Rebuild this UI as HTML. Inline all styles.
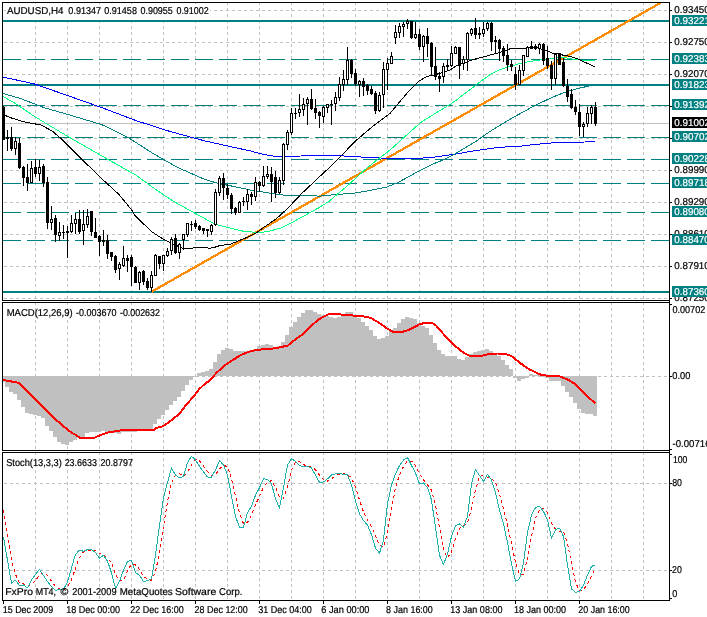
<!DOCTYPE html>
<html><head><meta charset="utf-8"><title>AUDUSD,H4</title>
<style>html,body{margin:0;padding:0;background:#fff;overflow:hidden}svg{display:block}text{filter:grayscale(1);text-rendering:geometricPrecision;stroke-width:0.22px;paint-order:stroke}</style>
</head><body>
<svg width="707" height="617" viewBox="0 0 707 617" font-family="'Liberation Sans', sans-serif" font-size="10px">
<rect x="0" y="0" width="707" height="617" fill="#fff"/>
<g shape-rendering="crispEdges" stroke="#c0c0c0" stroke-width="1" fill="none">
<line x1="35.5" y1="3" x2="35.5" y2="300" stroke-dasharray="3 3" stroke-dashoffset="1"/>
<line x1="35.5" y1="303" x2="35.5" y2="450" stroke-dasharray="3 3" stroke-dashoffset="1"/>
<line x1="35.5" y1="453" x2="35.5" y2="600" stroke-dasharray="3 3" stroke-dashoffset="1"/>
<line x1="67.5" y1="3" x2="67.5" y2="300" stroke-dasharray="3 3" stroke-dashoffset="1"/>
<line x1="67.5" y1="303" x2="67.5" y2="450" stroke-dasharray="3 3" stroke-dashoffset="1"/>
<line x1="67.5" y1="453" x2="67.5" y2="600" stroke-dasharray="3 3" stroke-dashoffset="1"/>
<line x1="99.5" y1="3" x2="99.5" y2="300" stroke-dasharray="3 3" stroke-dashoffset="1"/>
<line x1="99.5" y1="303" x2="99.5" y2="450" stroke-dasharray="3 3" stroke-dashoffset="1"/>
<line x1="99.5" y1="453" x2="99.5" y2="600" stroke-dasharray="3 3" stroke-dashoffset="1"/>
<line x1="131.5" y1="3" x2="131.5" y2="300" stroke-dasharray="3 3" stroke-dashoffset="1"/>
<line x1="131.5" y1="303" x2="131.5" y2="450" stroke-dasharray="3 3" stroke-dashoffset="1"/>
<line x1="131.5" y1="453" x2="131.5" y2="600" stroke-dasharray="3 3" stroke-dashoffset="1"/>
<line x1="163.5" y1="3" x2="163.5" y2="300" stroke-dasharray="3 3" stroke-dashoffset="1"/>
<line x1="163.5" y1="303" x2="163.5" y2="450" stroke-dasharray="3 3" stroke-dashoffset="1"/>
<line x1="163.5" y1="453" x2="163.5" y2="600" stroke-dasharray="3 3" stroke-dashoffset="1"/>
<line x1="195.5" y1="3" x2="195.5" y2="300" stroke-dasharray="3 3" stroke-dashoffset="1"/>
<line x1="195.5" y1="303" x2="195.5" y2="450" stroke-dasharray="3 3" stroke-dashoffset="1"/>
<line x1="195.5" y1="453" x2="195.5" y2="600" stroke-dasharray="3 3" stroke-dashoffset="1"/>
<line x1="227.5" y1="3" x2="227.5" y2="300" stroke-dasharray="3 3" stroke-dashoffset="1"/>
<line x1="227.5" y1="303" x2="227.5" y2="450" stroke-dasharray="3 3" stroke-dashoffset="1"/>
<line x1="227.5" y1="453" x2="227.5" y2="600" stroke-dasharray="3 3" stroke-dashoffset="1"/>
<line x1="259.5" y1="3" x2="259.5" y2="300" stroke-dasharray="3 3" stroke-dashoffset="1"/>
<line x1="259.5" y1="303" x2="259.5" y2="450" stroke-dasharray="3 3" stroke-dashoffset="1"/>
<line x1="259.5" y1="453" x2="259.5" y2="600" stroke-dasharray="3 3" stroke-dashoffset="1"/>
<line x1="291.5" y1="3" x2="291.5" y2="300" stroke-dasharray="3 3" stroke-dashoffset="1"/>
<line x1="291.5" y1="303" x2="291.5" y2="450" stroke-dasharray="3 3" stroke-dashoffset="1"/>
<line x1="291.5" y1="453" x2="291.5" y2="600" stroke-dasharray="3 3" stroke-dashoffset="1"/>
<line x1="323.5" y1="3" x2="323.5" y2="300" stroke-dasharray="3 3" stroke-dashoffset="1"/>
<line x1="323.5" y1="303" x2="323.5" y2="450" stroke-dasharray="3 3" stroke-dashoffset="1"/>
<line x1="323.5" y1="453" x2="323.5" y2="600" stroke-dasharray="3 3" stroke-dashoffset="1"/>
<line x1="355.5" y1="3" x2="355.5" y2="300" stroke-dasharray="3 3" stroke-dashoffset="1"/>
<line x1="355.5" y1="303" x2="355.5" y2="450" stroke-dasharray="3 3" stroke-dashoffset="1"/>
<line x1="355.5" y1="453" x2="355.5" y2="600" stroke-dasharray="3 3" stroke-dashoffset="1"/>
<line x1="387.5" y1="3" x2="387.5" y2="300" stroke-dasharray="3 3" stroke-dashoffset="1"/>
<line x1="387.5" y1="303" x2="387.5" y2="450" stroke-dasharray="3 3" stroke-dashoffset="1"/>
<line x1="387.5" y1="453" x2="387.5" y2="600" stroke-dasharray="3 3" stroke-dashoffset="1"/>
<line x1="419.5" y1="3" x2="419.5" y2="300" stroke-dasharray="3 3" stroke-dashoffset="1"/>
<line x1="419.5" y1="303" x2="419.5" y2="450" stroke-dasharray="3 3" stroke-dashoffset="1"/>
<line x1="419.5" y1="453" x2="419.5" y2="600" stroke-dasharray="3 3" stroke-dashoffset="1"/>
<line x1="451.5" y1="3" x2="451.5" y2="300" stroke-dasharray="3 3" stroke-dashoffset="1"/>
<line x1="451.5" y1="303" x2="451.5" y2="450" stroke-dasharray="3 3" stroke-dashoffset="1"/>
<line x1="451.5" y1="453" x2="451.5" y2="600" stroke-dasharray="3 3" stroke-dashoffset="1"/>
<line x1="483.5" y1="3" x2="483.5" y2="300" stroke-dasharray="3 3" stroke-dashoffset="1"/>
<line x1="483.5" y1="303" x2="483.5" y2="450" stroke-dasharray="3 3" stroke-dashoffset="1"/>
<line x1="483.5" y1="453" x2="483.5" y2="600" stroke-dasharray="3 3" stroke-dashoffset="1"/>
<line x1="515.5" y1="3" x2="515.5" y2="300" stroke-dasharray="3 3" stroke-dashoffset="1"/>
<line x1="515.5" y1="303" x2="515.5" y2="450" stroke-dasharray="3 3" stroke-dashoffset="1"/>
<line x1="515.5" y1="453" x2="515.5" y2="600" stroke-dasharray="3 3" stroke-dashoffset="1"/>
<line x1="547.5" y1="3" x2="547.5" y2="300" stroke-dasharray="3 3" stroke-dashoffset="1"/>
<line x1="547.5" y1="303" x2="547.5" y2="450" stroke-dasharray="3 3" stroke-dashoffset="1"/>
<line x1="547.5" y1="453" x2="547.5" y2="600" stroke-dasharray="3 3" stroke-dashoffset="1"/>
<line x1="579.5" y1="3" x2="579.5" y2="300" stroke-dasharray="3 3" stroke-dashoffset="1"/>
<line x1="579.5" y1="303" x2="579.5" y2="450" stroke-dasharray="3 3" stroke-dashoffset="1"/>
<line x1="579.5" y1="453" x2="579.5" y2="600" stroke-dasharray="3 3" stroke-dashoffset="1"/>
<line x1="611.5" y1="3" x2="611.5" y2="300" stroke-dasharray="3 3" stroke-dashoffset="1"/>
<line x1="611.5" y1="303" x2="611.5" y2="450" stroke-dasharray="3 3" stroke-dashoffset="1"/>
<line x1="611.5" y1="453" x2="611.5" y2="600" stroke-dasharray="3 3" stroke-dashoffset="1"/>
<line x1="643.5" y1="3" x2="643.5" y2="300" stroke-dasharray="3 3" stroke-dashoffset="1"/>
<line x1="643.5" y1="303" x2="643.5" y2="450" stroke-dasharray="3 3" stroke-dashoffset="1"/>
<line x1="643.5" y1="453" x2="643.5" y2="600" stroke-dasharray="3 3" stroke-dashoffset="1"/>
<line x1="3" y1="10.5" x2="669" y2="10.5" stroke-dasharray="3 3" stroke-dashoffset="5"/>
<line x1="3" y1="42.5" x2="669" y2="42.5" stroke-dasharray="3 3" stroke-dashoffset="5"/>
<line x1="3" y1="74.5" x2="669" y2="74.5" stroke-dasharray="3 3" stroke-dashoffset="5"/>
<line x1="3" y1="106.5" x2="669" y2="106.5" stroke-dasharray="3 3" stroke-dashoffset="5"/>
<line x1="3" y1="138.5" x2="669" y2="138.5" stroke-dasharray="3 3" stroke-dashoffset="5"/>
<line x1="3" y1="170.5" x2="669" y2="170.5" stroke-dasharray="3 3" stroke-dashoffset="5"/>
<line x1="3" y1="202.5" x2="669" y2="202.5" stroke-dasharray="3 3" stroke-dashoffset="5"/>
<line x1="3" y1="234.5" x2="669" y2="234.5" stroke-dasharray="3 3" stroke-dashoffset="5"/>
<line x1="3" y1="266.5" x2="669" y2="266.5" stroke-dasharray="3 3" stroke-dashoffset="5"/>
<line x1="3" y1="298.5" x2="669" y2="298.5" stroke-dasharray="3 3" stroke-dashoffset="5"/>
<line x1="3" y1="483.5" x2="669" y2="483.5" stroke-dasharray="3 3" stroke-dashoffset="5"/>
<line x1="3" y1="570.5" x2="669" y2="570.5" stroke-dasharray="3 3" stroke-dashoffset="5"/>
</g>
<g id="main">
<rect x="3" y="123" width="666" height="1" fill="#c0c0c0" shape-rendering="crispEdges"/>
<g shape-rendering="crispEdges" fill="#008080">
<rect x="3" y="20" width="666" height="2"/>
<rect x="3" y="84" width="666" height="2"/>
<rect x="3" y="291" width="666" height="2"/>
</g>
<g shape-rendering="crispEdges" stroke="#008080" stroke-width="1">
<line x1="3" y1="59.5" x2="669" y2="59.5" stroke-dasharray="18 6"/>
<line x1="3" y1="105.5" x2="669" y2="105.5" stroke-dasharray="18 6"/>
<line x1="3" y1="137.5" x2="669" y2="137.5" stroke-dasharray="18 6"/>
<line x1="3" y1="159.5" x2="669" y2="159.5" stroke-dasharray="18 6"/>
<line x1="3" y1="183.5" x2="669" y2="183.5" stroke-dasharray="18 6"/>
<line x1="3" y1="212.5" x2="669" y2="212.5" stroke-dasharray="18 6"/>
<line x1="3" y1="240.5" x2="669" y2="240.5" stroke-dasharray="18 6"/>
</g>
<line x1="151.8" y1="291.6" x2="660.3" y2="3" stroke="#ff8c00" stroke-width="2.3" shape-rendering="crispEdges"/>
<g fill="none" stroke-width="1" stroke-linejoin="round" shape-rendering="crispEdges">
<polyline stroke="#0000ff" points="2.7,77 34,83.8 68,95.7 102,107.7 136,120.6 170,131.5 204,140.7 230,146.5 240,148.7 250,150.8 260,153.6 270.4,155.8 282.5,156.8 300.7,156 321,155.3 340,155.8 363,157.1 390,158.5 410,159 434,157.2 455,154.2 470,151.5 498,147.4 520,146.2 534,144.6 552,142.9 585,142 595,141.3"/>
<polyline stroke="#008080" points="2.7,93.4 20.4,98.5 44.3,107.7 68,114.5 102,124.7 129.4,138.3 153.2,153.6 177,167.2 204,179.1 217,183.1 230,185.7 250.4,190 281,194.9 290,195.5 311.9,195.5 319.2,196.2 336.6,194.5 355.6,193 371.6,190.1 386.6,187.1 397.9,182.6 420.5,170.2 431.8,164.5 443.1,160 454.5,154.3 465.8,147.5 477.1,140.7 480,138.4 490.5,131.1 501,124.7 511.6,118.4 522.1,112.5 532.6,106.8 543.2,101.6 553.7,96.7 564.2,92.5 574.7,89.4 585.3,86.8 594.7,84.9"/>
<polyline stroke="#00ff7f" points="2.7,96.3 17,104.5 34,116.2 51,126.4 68,136.6 102,156 136,175.2 153,187.5 166.2,196.6 177,203.4 182.4,206.3 198.6,215.2 214.8,224.2 231,228.2 242.4,231 250,231.8 259.4,232.7 270,231 281.5,227.8 290,223.6 304.6,215.6 319.2,207.6 329.4,201 339.6,192.3 348.3,185 357,177 365.8,169 377.5,159.5 390,150 397.9,143 420.5,122.6 438.6,111.3 451,103.8 456.4,100 470,89.7 475,85.8 480,81.8 490.5,74.4 501,69.2 511.6,65.9 522.1,62.9 532.6,61 543.2,59.6 553.7,58.2 564.2,57.6 574.7,59.4 585.3,60.6 594.7,60.8"/>
<polyline stroke="#000" points="2.7,114.3 10,117.5 17,119.8 25.5,122.2 41,125 52.3,131.1 62.2,139.6 80.6,158 100,177.1 119,194.5 132.3,210.7 134.6,215 142.9,223.3 152.5,232.2 160.8,237.7 169.1,241.9 172.5,243.9 182.9,248.3 192.5,248.3 194.5,247.4 205,247.4 209,248.3 214,247.5 220,245.5 230,244.3 247,237.4 256,233.2 264,227.2 276.4,218.8 288.3,207.7 301.9,193.3 320,176.3 335.4,161.9 354.9,141.5 371.9,127 390,113.5 399.6,101.9 409.8,90 418.3,81.5 426.8,76.4 435.3,74.7 450,70 457,65.4 474,59.4 496,53.5 500,52.4 510,48.8 525,48.6 530,47.5 538,47.6 541,49 546.5,50.4 551.5,52.9 559.4,53.9 563.4,55.3 570,56.3 576.8,58.5 594.8,66.8"/>
</g>
<g shape-rendering="crispEdges">
<rect x="3" y="106" width="1" height="34" fill="#000"/>
<rect x="2" y="107" width="3" height="33" fill="#000"/>
<rect x="7" y="130" width="1" height="21" fill="#000"/>
<rect x="6" y="137" width="3" height="2" fill="#000"/>
<rect x="11" y="127" width="1" height="24" fill="#000"/>
<rect x="10" y="137" width="3" height="12" fill="#000"/>
<rect x="15" y="137" width="1" height="18" fill="#000"/>
<rect x="14" y="141" width="3" height="8" fill="#000"/>
<rect x="15" y="142" width="1" height="6" fill="#fff"/>
<rect x="19" y="138" width="1" height="31" fill="#000"/>
<rect x="18" y="143" width="3" height="25" fill="#000"/>
<rect x="23" y="166" width="1" height="20" fill="#000"/>
<rect x="22" y="167" width="3" height="11" fill="#000"/>
<rect x="27" y="164" width="1" height="27" fill="#000"/>
<rect x="26" y="177" width="3" height="6" fill="#000"/>
<rect x="31" y="161" width="1" height="22" fill="#000"/>
<rect x="30" y="168" width="3" height="15" fill="#000"/>
<rect x="31" y="169" width="1" height="13" fill="#fff"/>
<rect x="35" y="159" width="1" height="18" fill="#000"/>
<rect x="34" y="167" width="3" height="7" fill="#000"/>
<rect x="39" y="160" width="1" height="21" fill="#000"/>
<rect x="38" y="167" width="3" height="7" fill="#000"/>
<rect x="39" y="168" width="1" height="5" fill="#fff"/>
<rect x="43" y="164" width="1" height="23" fill="#000"/>
<rect x="42" y="166" width="3" height="17" fill="#000"/>
<rect x="47" y="177" width="1" height="52" fill="#000"/>
<rect x="46" y="182" width="3" height="41" fill="#000"/>
<rect x="51" y="206" width="1" height="24" fill="#000"/>
<rect x="50" y="219" width="3" height="4" fill="#000"/>
<rect x="51" y="220" width="1" height="2" fill="#fff"/>
<rect x="55" y="215" width="1" height="27" fill="#000"/>
<rect x="54" y="218" width="3" height="17" fill="#000"/>
<rect x="59" y="222" width="1" height="19" fill="#000"/>
<rect x="58" y="232" width="3" height="4" fill="#000"/>
<rect x="59" y="233" width="1" height="2" fill="#fff"/>
<rect x="63" y="225" width="1" height="14" fill="#000"/>
<rect x="62" y="232" width="3" height="1" fill="#000"/>
<rect x="67" y="226" width="1" height="32" fill="#000"/>
<rect x="66" y="231" width="3" height="2" fill="#000"/>
<rect x="71" y="215" width="1" height="18" fill="#000"/>
<rect x="70" y="223" width="3" height="9" fill="#000"/>
<rect x="71" y="224" width="1" height="7" fill="#fff"/>
<rect x="75" y="213" width="1" height="21" fill="#000"/>
<rect x="74" y="219" width="3" height="5" fill="#000"/>
<rect x="75" y="220" width="1" height="3" fill="#fff"/>
<rect x="79" y="210" width="1" height="24" fill="#000"/>
<rect x="78" y="219" width="3" height="13" fill="#000"/>
<rect x="83" y="210" width="1" height="35" fill="#000"/>
<rect x="82" y="224" width="3" height="7" fill="#000"/>
<rect x="83" y="225" width="1" height="5" fill="#fff"/>
<rect x="87" y="209" width="1" height="19" fill="#000"/>
<rect x="86" y="216" width="3" height="9" fill="#000"/>
<rect x="87" y="217" width="1" height="7" fill="#fff"/>
<rect x="91" y="211" width="1" height="25" fill="#000"/>
<rect x="90" y="211" width="3" height="21" fill="#000"/>
<rect x="95" y="218" width="1" height="20" fill="#000"/>
<rect x="94" y="232" width="3" height="6" fill="#000"/>
<rect x="99" y="235" width="1" height="21" fill="#000"/>
<rect x="98" y="236" width="3" height="6" fill="#000"/>
<rect x="103" y="230" width="1" height="16" fill="#000"/>
<rect x="102" y="240" width="3" height="2" fill="#000"/>
<rect x="107" y="235" width="1" height="24" fill="#000"/>
<rect x="106" y="240" width="3" height="14" fill="#000"/>
<rect x="111" y="252" width="1" height="9" fill="#000"/>
<rect x="110" y="252" width="3" height="5" fill="#000"/>
<rect x="115" y="255" width="1" height="18" fill="#000"/>
<rect x="114" y="256" width="3" height="14" fill="#000"/>
<rect x="119" y="262" width="1" height="18" fill="#000"/>
<rect x="118" y="264" width="3" height="5" fill="#000"/>
<rect x="119" y="265" width="1" height="3" fill="#fff"/>
<rect x="123" y="246" width="1" height="21" fill="#000"/>
<rect x="122" y="258" width="3" height="8" fill="#000"/>
<rect x="123" y="259" width="1" height="6" fill="#fff"/>
<rect x="127" y="255" width="1" height="17" fill="#000"/>
<rect x="126" y="258" width="3" height="3" fill="#000"/>
<rect x="131" y="255" width="1" height="31" fill="#000"/>
<rect x="130" y="257" width="3" height="10" fill="#000"/>
<rect x="135" y="266" width="1" height="17" fill="#000"/>
<rect x="134" y="267" width="3" height="16" fill="#000"/>
<rect x="139" y="271" width="1" height="19" fill="#000"/>
<rect x="138" y="272" width="3" height="11" fill="#000"/>
<rect x="139" y="273" width="1" height="9" fill="#fff"/>
<rect x="143" y="270" width="1" height="15" fill="#000"/>
<rect x="142" y="271" width="3" height="11" fill="#000"/>
<rect x="147" y="278" width="1" height="12" fill="#000"/>
<rect x="146" y="281" width="3" height="7" fill="#000"/>
<rect x="151" y="271" width="1" height="21" fill="#000"/>
<rect x="150" y="275" width="3" height="13" fill="#000"/>
<rect x="151" y="276" width="1" height="11" fill="#fff"/>
<rect x="155" y="254" width="1" height="22" fill="#000"/>
<rect x="154" y="255" width="3" height="21" fill="#000"/>
<rect x="155" y="256" width="1" height="19" fill="#fff"/>
<rect x="159" y="256" width="1" height="13" fill="#000"/>
<rect x="158" y="256" width="3" height="8" fill="#000"/>
<rect x="163" y="255" width="1" height="16" fill="#000"/>
<rect x="162" y="255" width="3" height="9" fill="#000"/>
<rect x="163" y="256" width="1" height="7" fill="#fff"/>
<rect x="167" y="248" width="1" height="9" fill="#000"/>
<rect x="166" y="251" width="3" height="5" fill="#000"/>
<rect x="167" y="252" width="1" height="3" fill="#fff"/>
<rect x="171" y="237" width="1" height="18" fill="#000"/>
<rect x="170" y="239" width="3" height="12" fill="#000"/>
<rect x="171" y="240" width="1" height="10" fill="#fff"/>
<rect x="175" y="234" width="1" height="20" fill="#000"/>
<rect x="174" y="238" width="3" height="15" fill="#000"/>
<rect x="179" y="243" width="1" height="16" fill="#000"/>
<rect x="178" y="244" width="3" height="9" fill="#000"/>
<rect x="179" y="245" width="1" height="7" fill="#fff"/>
<rect x="183" y="234" width="1" height="16" fill="#000"/>
<rect x="182" y="234" width="3" height="6" fill="#000"/>
<rect x="183" y="235" width="1" height="4" fill="#fff"/>
<rect x="187" y="223" width="1" height="14" fill="#000"/>
<rect x="186" y="223" width="3" height="12" fill="#000"/>
<rect x="187" y="224" width="1" height="10" fill="#fff"/>
<rect x="191" y="221" width="1" height="10" fill="#000"/>
<rect x="190" y="224" width="3" height="1" fill="#000"/>
<rect x="195" y="220" width="1" height="9" fill="#000"/>
<rect x="194" y="223" width="3" height="4" fill="#000"/>
<rect x="199" y="225" width="1" height="6" fill="#000"/>
<rect x="198" y="226" width="3" height="4" fill="#000"/>
<rect x="203" y="228" width="1" height="6" fill="#000"/>
<rect x="202" y="228" width="3" height="3" fill="#000"/>
<rect x="207" y="229" width="1" height="8" fill="#000"/>
<rect x="206" y="229" width="3" height="2" fill="#000"/>
<rect x="211" y="224" width="1" height="11" fill="#000"/>
<rect x="210" y="225" width="3" height="7" fill="#000"/>
<rect x="211" y="226" width="1" height="5" fill="#fff"/>
<rect x="215" y="189" width="1" height="37" fill="#000"/>
<rect x="214" y="192" width="3" height="33" fill="#000"/>
<rect x="215" y="193" width="1" height="31" fill="#fff"/>
<rect x="219" y="176" width="1" height="20" fill="#000"/>
<rect x="218" y="178" width="3" height="15" fill="#000"/>
<rect x="219" y="179" width="1" height="13" fill="#fff"/>
<rect x="223" y="173" width="1" height="27" fill="#000"/>
<rect x="222" y="178" width="3" height="10" fill="#000"/>
<rect x="227" y="184" width="1" height="15" fill="#000"/>
<rect x="226" y="188" width="3" height="7" fill="#000"/>
<rect x="231" y="193" width="1" height="21" fill="#000"/>
<rect x="230" y="195" width="3" height="14" fill="#000"/>
<rect x="235" y="207" width="1" height="8" fill="#000"/>
<rect x="234" y="208" width="3" height="5" fill="#000"/>
<rect x="239" y="201" width="1" height="12" fill="#000"/>
<rect x="238" y="202" width="3" height="11" fill="#000"/>
<rect x="239" y="203" width="1" height="9" fill="#fff"/>
<rect x="243" y="197" width="1" height="9" fill="#000"/>
<rect x="242" y="201" width="3" height="1" fill="#000"/>
<rect x="247" y="189" width="1" height="21" fill="#000"/>
<rect x="246" y="194" width="3" height="8" fill="#000"/>
<rect x="247" y="195" width="1" height="6" fill="#fff"/>
<rect x="251" y="192" width="1" height="13" fill="#000"/>
<rect x="250" y="194" width="3" height="3" fill="#000"/>
<rect x="255" y="177" width="1" height="24" fill="#000"/>
<rect x="254" y="182" width="3" height="15" fill="#000"/>
<rect x="255" y="183" width="1" height="13" fill="#fff"/>
<rect x="259" y="181" width="1" height="11" fill="#000"/>
<rect x="258" y="182" width="3" height="4" fill="#000"/>
<rect x="263" y="166" width="1" height="21" fill="#000"/>
<rect x="262" y="176" width="3" height="10" fill="#000"/>
<rect x="263" y="177" width="1" height="8" fill="#fff"/>
<rect x="267" y="166" width="1" height="13" fill="#000"/>
<rect x="266" y="174" width="3" height="3" fill="#000"/>
<rect x="267" y="175" width="1" height="1" fill="#fff"/>
<rect x="271" y="167" width="1" height="35" fill="#000"/>
<rect x="270" y="174" width="3" height="8" fill="#000"/>
<rect x="275" y="171" width="1" height="27" fill="#000"/>
<rect x="274" y="177" width="3" height="16" fill="#000"/>
<rect x="279" y="177" width="1" height="17" fill="#000"/>
<rect x="278" y="180" width="3" height="13" fill="#000"/>
<rect x="279" y="181" width="1" height="11" fill="#fff"/>
<rect x="283" y="143" width="1" height="42" fill="#000"/>
<rect x="282" y="144" width="3" height="37" fill="#000"/>
<rect x="283" y="145" width="1" height="35" fill="#fff"/>
<rect x="287" y="130" width="1" height="20" fill="#000"/>
<rect x="286" y="132" width="3" height="13" fill="#000"/>
<rect x="287" y="133" width="1" height="11" fill="#fff"/>
<rect x="291" y="108" width="1" height="27" fill="#000"/>
<rect x="290" y="113" width="3" height="20" fill="#000"/>
<rect x="291" y="114" width="1" height="18" fill="#fff"/>
<rect x="295" y="108" width="1" height="11" fill="#000"/>
<rect x="294" y="113" width="3" height="1" fill="#000"/>
<rect x="299" y="94" width="1" height="23" fill="#000"/>
<rect x="298" y="109" width="3" height="4" fill="#000"/>
<rect x="299" y="110" width="1" height="2" fill="#fff"/>
<rect x="303" y="98" width="1" height="18" fill="#000"/>
<rect x="302" y="104" width="3" height="6" fill="#000"/>
<rect x="303" y="105" width="1" height="4" fill="#fff"/>
<rect x="307" y="97" width="1" height="28" fill="#000"/>
<rect x="306" y="99" width="3" height="5" fill="#000"/>
<rect x="307" y="100" width="1" height="3" fill="#fff"/>
<rect x="311" y="89" width="1" height="21" fill="#000"/>
<rect x="310" y="99" width="3" height="10" fill="#000"/>
<rect x="315" y="99" width="1" height="20" fill="#000"/>
<rect x="314" y="108" width="3" height="5" fill="#000"/>
<rect x="319" y="111" width="1" height="17" fill="#000"/>
<rect x="318" y="112" width="3" height="4" fill="#000"/>
<rect x="323" y="106" width="1" height="17" fill="#000"/>
<rect x="322" y="107" width="3" height="10" fill="#000"/>
<rect x="323" y="108" width="1" height="8" fill="#fff"/>
<rect x="327" y="104" width="1" height="9" fill="#000"/>
<rect x="326" y="104" width="3" height="4" fill="#000"/>
<rect x="327" y="105" width="1" height="2" fill="#fff"/>
<rect x="331" y="100" width="1" height="25" fill="#000"/>
<rect x="330" y="104" width="3" height="1" fill="#000"/>
<rect x="335" y="92" width="1" height="19" fill="#000"/>
<rect x="334" y="97" width="3" height="7" fill="#000"/>
<rect x="335" y="98" width="1" height="5" fill="#fff"/>
<rect x="339" y="77" width="1" height="24" fill="#000"/>
<rect x="338" y="84" width="3" height="14" fill="#000"/>
<rect x="339" y="85" width="1" height="12" fill="#fff"/>
<rect x="343" y="70" width="1" height="21" fill="#000"/>
<rect x="342" y="79" width="3" height="6" fill="#000"/>
<rect x="343" y="80" width="1" height="4" fill="#fff"/>
<rect x="347" y="47" width="1" height="38" fill="#000"/>
<rect x="346" y="60" width="3" height="20" fill="#000"/>
<rect x="347" y="61" width="1" height="18" fill="#fff"/>
<rect x="351" y="59" width="1" height="19" fill="#000"/>
<rect x="350" y="60" width="3" height="14" fill="#000"/>
<rect x="355" y="69" width="1" height="17" fill="#000"/>
<rect x="354" y="73" width="3" height="11" fill="#000"/>
<rect x="359" y="80" width="1" height="17" fill="#000"/>
<rect x="358" y="81" width="3" height="4" fill="#000"/>
<rect x="359" y="82" width="1" height="2" fill="#fff"/>
<rect x="363" y="78" width="1" height="18" fill="#000"/>
<rect x="362" y="81" width="3" height="6" fill="#000"/>
<rect x="367" y="84" width="1" height="11" fill="#000"/>
<rect x="366" y="85" width="3" height="6" fill="#000"/>
<rect x="371" y="86" width="1" height="9" fill="#000"/>
<rect x="370" y="89" width="3" height="5" fill="#000"/>
<rect x="375" y="91" width="1" height="23" fill="#000"/>
<rect x="374" y="93" width="3" height="18" fill="#000"/>
<rect x="379" y="92" width="1" height="20" fill="#000"/>
<rect x="378" y="95" width="3" height="16" fill="#000"/>
<rect x="379" y="96" width="1" height="14" fill="#fff"/>
<rect x="383" y="62" width="1" height="46" fill="#000"/>
<rect x="382" y="69" width="3" height="26" fill="#000"/>
<rect x="383" y="70" width="1" height="24" fill="#fff"/>
<rect x="387" y="58" width="1" height="32" fill="#000"/>
<rect x="386" y="63" width="3" height="7" fill="#000"/>
<rect x="387" y="64" width="1" height="5" fill="#fff"/>
<rect x="391" y="52" width="1" height="12" fill="#000"/>
<rect x="390" y="56" width="3" height="8" fill="#000"/>
<rect x="391" y="57" width="1" height="6" fill="#fff"/>
<rect x="395" y="25" width="1" height="19" fill="#000"/>
<rect x="394" y="32" width="3" height="6" fill="#000"/>
<rect x="395" y="33" width="1" height="4" fill="#fff"/>
<rect x="399" y="23" width="1" height="15" fill="#000"/>
<rect x="398" y="26" width="3" height="7" fill="#000"/>
<rect x="399" y="27" width="1" height="5" fill="#fff"/>
<rect x="403" y="22" width="1" height="15" fill="#000"/>
<rect x="402" y="24" width="3" height="3" fill="#000"/>
<rect x="403" y="25" width="1" height="1" fill="#fff"/>
<rect x="407" y="19" width="1" height="10" fill="#000"/>
<rect x="406" y="21" width="3" height="3" fill="#000"/>
<rect x="407" y="22" width="1" height="1" fill="#fff"/>
<rect x="411" y="21" width="1" height="18" fill="#000"/>
<rect x="410" y="21" width="3" height="17" fill="#000"/>
<rect x="415" y="22" width="1" height="17" fill="#000"/>
<rect x="414" y="34" width="3" height="4" fill="#000"/>
<rect x="415" y="35" width="1" height="2" fill="#fff"/>
<rect x="419" y="29" width="1" height="21" fill="#000"/>
<rect x="418" y="34" width="3" height="13" fill="#000"/>
<rect x="423" y="35" width="1" height="27" fill="#000"/>
<rect x="422" y="36" width="3" height="11" fill="#000"/>
<rect x="423" y="37" width="1" height="9" fill="#fff"/>
<rect x="427" y="28" width="1" height="29" fill="#000"/>
<rect x="426" y="36" width="3" height="8" fill="#000"/>
<rect x="431" y="42" width="1" height="33" fill="#000"/>
<rect x="430" y="43" width="3" height="24" fill="#000"/>
<rect x="435" y="47" width="1" height="33" fill="#000"/>
<rect x="434" y="66" width="3" height="11" fill="#000"/>
<rect x="439" y="72" width="1" height="20" fill="#000"/>
<rect x="438" y="76" width="3" height="3" fill="#000"/>
<rect x="443" y="63" width="1" height="20" fill="#000"/>
<rect x="442" y="66" width="3" height="11" fill="#000"/>
<rect x="443" y="67" width="1" height="9" fill="#fff"/>
<rect x="447" y="59" width="1" height="12" fill="#000"/>
<rect x="446" y="65" width="3" height="2" fill="#000"/>
<rect x="451" y="46" width="1" height="21" fill="#000"/>
<rect x="450" y="53" width="3" height="13" fill="#000"/>
<rect x="451" y="54" width="1" height="11" fill="#fff"/>
<rect x="455" y="46" width="1" height="8" fill="#000"/>
<rect x="454" y="47" width="3" height="7" fill="#000"/>
<rect x="455" y="48" width="1" height="5" fill="#fff"/>
<rect x="459" y="47" width="1" height="32" fill="#000"/>
<rect x="458" y="47" width="3" height="19" fill="#000"/>
<rect x="463" y="56" width="1" height="14" fill="#000"/>
<rect x="462" y="59" width="3" height="5" fill="#000"/>
<rect x="463" y="60" width="1" height="3" fill="#fff"/>
<rect x="467" y="32" width="1" height="39" fill="#000"/>
<rect x="466" y="33" width="3" height="27" fill="#000"/>
<rect x="467" y="34" width="1" height="25" fill="#fff"/>
<rect x="471" y="28" width="1" height="8" fill="#000"/>
<rect x="470" y="29" width="3" height="5" fill="#000"/>
<rect x="471" y="30" width="1" height="3" fill="#fff"/>
<rect x="475" y="18" width="1" height="21" fill="#000"/>
<rect x="474" y="28" width="3" height="7" fill="#000"/>
<rect x="479" y="27" width="1" height="12" fill="#000"/>
<rect x="478" y="33" width="3" height="2" fill="#000"/>
<rect x="483" y="22" width="1" height="15" fill="#000"/>
<rect x="482" y="29" width="3" height="5" fill="#000"/>
<rect x="483" y="30" width="1" height="3" fill="#fff"/>
<rect x="487" y="22" width="1" height="9" fill="#000"/>
<rect x="486" y="23" width="3" height="6" fill="#000"/>
<rect x="487" y="24" width="1" height="4" fill="#fff"/>
<rect x="491" y="22" width="1" height="29" fill="#000"/>
<rect x="490" y="23" width="3" height="19" fill="#000"/>
<rect x="495" y="36" width="1" height="17" fill="#000"/>
<rect x="494" y="40" width="3" height="2" fill="#000"/>
<rect x="499" y="39" width="1" height="22" fill="#000"/>
<rect x="498" y="40" width="3" height="9" fill="#000"/>
<rect x="503" y="46" width="1" height="16" fill="#000"/>
<rect x="502" y="48" width="3" height="8" fill="#000"/>
<rect x="507" y="44" width="1" height="27" fill="#000"/>
<rect x="506" y="55" width="3" height="10" fill="#000"/>
<rect x="511" y="60" width="1" height="11" fill="#000"/>
<rect x="510" y="64" width="3" height="3" fill="#000"/>
<rect x="515" y="67" width="1" height="23" fill="#000"/>
<rect x="514" y="74" width="3" height="11" fill="#000"/>
<rect x="519" y="65" width="1" height="20" fill="#000"/>
<rect x="518" y="70" width="3" height="15" fill="#000"/>
<rect x="519" y="71" width="1" height="13" fill="#fff"/>
<rect x="523" y="55" width="1" height="21" fill="#000"/>
<rect x="522" y="55" width="3" height="16" fill="#000"/>
<rect x="523" y="56" width="1" height="14" fill="#fff"/>
<rect x="527" y="46" width="1" height="11" fill="#000"/>
<rect x="526" y="47" width="3" height="10" fill="#000"/>
<rect x="527" y="48" width="1" height="8" fill="#fff"/>
<rect x="531" y="41" width="1" height="8" fill="#000"/>
<rect x="530" y="46" width="3" height="3" fill="#000"/>
<rect x="535" y="44" width="1" height="6" fill="#000"/>
<rect x="534" y="46" width="3" height="3" fill="#000"/>
<rect x="539" y="43" width="1" height="11" fill="#000"/>
<rect x="538" y="44" width="3" height="5" fill="#000"/>
<rect x="539" y="45" width="1" height="3" fill="#fff"/>
<rect x="543" y="43" width="1" height="22" fill="#000"/>
<rect x="542" y="44" width="3" height="17" fill="#000"/>
<rect x="547" y="46" width="1" height="23" fill="#000"/>
<rect x="546" y="58" width="3" height="8" fill="#000"/>
<rect x="551" y="61" width="1" height="29" fill="#000"/>
<rect x="550" y="65" width="3" height="14" fill="#000"/>
<rect x="555" y="53" width="1" height="32" fill="#000"/>
<rect x="554" y="54" width="3" height="25" fill="#000"/>
<rect x="555" y="55" width="1" height="23" fill="#fff"/>
<rect x="559" y="53" width="1" height="12" fill="#000"/>
<rect x="558" y="53" width="3" height="12" fill="#000"/>
<rect x="563" y="58" width="1" height="29" fill="#000"/>
<rect x="562" y="62" width="3" height="24" fill="#000"/>
<rect x="567" y="79" width="1" height="23" fill="#000"/>
<rect x="566" y="86" width="3" height="11" fill="#000"/>
<rect x="571" y="89" width="1" height="20" fill="#000"/>
<rect x="570" y="94" width="3" height="14" fill="#000"/>
<rect x="575" y="100" width="1" height="15" fill="#000"/>
<rect x="574" y="107" width="3" height="5" fill="#000"/>
<rect x="579" y="104" width="1" height="32" fill="#000"/>
<rect x="578" y="112" width="3" height="15" fill="#000"/>
<rect x="583" y="122" width="1" height="15" fill="#000"/>
<rect x="582" y="124" width="3" height="3" fill="#000"/>
<rect x="583" y="125" width="1" height="1" fill="#fff"/>
<rect x="587" y="107" width="1" height="20" fill="#000"/>
<rect x="586" y="113" width="3" height="11" fill="#000"/>
<rect x="587" y="114" width="1" height="9" fill="#fff"/>
<rect x="591" y="105" width="1" height="19" fill="#000"/>
<rect x="590" y="107" width="3" height="7" fill="#000"/>
<rect x="591" y="108" width="1" height="5" fill="#fff"/>
<rect x="595" y="102" width="1" height="24" fill="#000"/>
<rect x="594" y="107" width="3" height="17" fill="#000"/>
</g>
<rect x="6" y="4" width="204" height="13" fill="#fff"/>
</g>
<g id="macd">
<g shape-rendering="crispEdges" fill="#c0c0c0">
<rect x="3" y="376" width="2" height="6"/>
<rect x="5" y="376" width="4" height="11"/>
<rect x="9" y="376" width="4" height="16"/>
<rect x="13" y="376" width="4" height="18"/>
<rect x="17" y="376" width="4" height="24"/>
<rect x="21" y="376" width="4" height="31"/>
<rect x="25" y="376" width="4" height="37"/>
<rect x="29" y="376" width="4" height="38"/>
<rect x="33" y="376" width="4" height="39"/>
<rect x="37" y="376" width="4" height="40"/>
<rect x="41" y="376" width="4" height="42"/>
<rect x="45" y="376" width="4" height="50"/>
<rect x="49" y="376" width="4" height="55"/>
<rect x="53" y="376" width="4" height="61"/>
<rect x="57" y="376" width="4" height="66"/>
<rect x="61" y="376" width="4" height="68"/>
<rect x="65" y="376" width="4" height="69"/>
<rect x="69" y="376" width="4" height="66"/>
<rect x="73" y="376" width="4" height="64"/>
<rect x="77" y="376" width="4" height="62"/>
<rect x="81" y="376" width="4" height="61"/>
<rect x="85" y="376" width="4" height="57"/>
<rect x="89" y="376" width="4" height="56"/>
<rect x="93" y="376" width="4" height="56"/>
<rect x="97" y="376" width="4" height="56"/>
<rect x="101" y="376" width="4" height="55"/>
<rect x="105" y="376" width="4" height="56"/>
<rect x="109" y="376" width="4" height="57"/>
<rect x="113" y="376" width="4" height="57"/>
<rect x="117" y="376" width="4" height="58"/>
<rect x="121" y="376" width="4" height="56"/>
<rect x="125" y="376" width="4" height="56"/>
<rect x="129" y="376" width="4" height="56"/>
<rect x="133" y="376" width="4" height="56"/>
<rect x="137" y="376" width="4" height="55"/>
<rect x="141" y="376" width="4" height="54"/>
<rect x="145" y="376" width="4" height="54"/>
<rect x="149" y="376" width="4" height="54"/>
<rect x="153" y="376" width="4" height="48"/>
<rect x="157" y="376" width="4" height="43"/>
<rect x="161" y="376" width="4" height="39"/>
<rect x="165" y="376" width="4" height="34"/>
<rect x="169" y="376" width="4" height="29"/>
<rect x="173" y="376" width="4" height="25"/>
<rect x="177" y="376" width="4" height="21"/>
<rect x="181" y="376" width="4" height="15"/>
<rect x="185" y="376" width="4" height="9"/>
<rect x="189" y="376" width="4" height="4"/>
<rect x="193" y="376" width="4" height="1"/>
<rect x="197" y="373" width="4" height="3"/>
<rect x="201" y="372" width="4" height="4"/>
<rect x="205" y="371" width="4" height="5"/>
<rect x="209" y="369" width="4" height="7"/>
<rect x="213" y="362" width="4" height="14"/>
<rect x="217" y="354" width="4" height="22"/>
<rect x="221" y="350" width="4" height="26"/>
<rect x="225" y="348" width="4" height="28"/>
<rect x="229" y="349" width="4" height="27"/>
<rect x="233" y="351" width="4" height="25"/>
<rect x="237" y="351" width="4" height="25"/>
<rect x="241" y="351" width="4" height="25"/>
<rect x="245" y="351" width="4" height="25"/>
<rect x="249" y="350" width="4" height="26"/>
<rect x="253" y="349" width="4" height="27"/>
<rect x="257" y="346" width="4" height="30"/>
<rect x="261" y="345" width="4" height="31"/>
<rect x="265" y="344" width="4" height="32"/>
<rect x="269" y="345" width="4" height="31"/>
<rect x="273" y="347" width="4" height="29"/>
<rect x="277" y="346" width="4" height="30"/>
<rect x="281" y="342" width="4" height="34"/>
<rect x="285" y="335" width="4" height="41"/>
<rect x="289" y="327" width="4" height="49"/>
<rect x="293" y="322" width="4" height="54"/>
<rect x="297" y="317" width="4" height="59"/>
<rect x="301" y="313" width="4" height="63"/>
<rect x="305" y="310" width="4" height="66"/>
<rect x="309" y="310" width="4" height="66"/>
<rect x="313" y="312" width="4" height="64"/>
<rect x="317" y="314" width="4" height="62"/>
<rect x="321" y="315" width="4" height="61"/>
<rect x="325" y="316" width="4" height="60"/>
<rect x="329" y="317" width="4" height="59"/>
<rect x="333" y="318" width="4" height="58"/>
<rect x="337" y="317" width="4" height="59"/>
<rect x="341" y="315" width="4" height="61"/>
<rect x="345" y="312" width="4" height="64"/>
<rect x="349" y="312" width="4" height="64"/>
<rect x="353" y="316" width="4" height="60"/>
<rect x="357" y="318" width="4" height="58"/>
<rect x="361" y="322" width="4" height="54"/>
<rect x="365" y="326" width="4" height="50"/>
<rect x="369" y="330" width="4" height="46"/>
<rect x="373" y="336" width="4" height="40"/>
<rect x="377" y="339" width="4" height="37"/>
<rect x="381" y="338" width="4" height="38"/>
<rect x="385" y="336" width="4" height="40"/>
<rect x="389" y="331" width="4" height="45"/>
<rect x="393" y="328" width="4" height="48"/>
<rect x="397" y="323" width="4" height="53"/>
<rect x="401" y="319" width="4" height="57"/>
<rect x="405" y="317" width="4" height="59"/>
<rect x="409" y="318" width="4" height="58"/>
<rect x="413" y="319" width="4" height="57"/>
<rect x="417" y="323" width="4" height="53"/>
<rect x="421" y="326" width="4" height="50"/>
<rect x="425" y="328" width="4" height="48"/>
<rect x="429" y="335" width="4" height="41"/>
<rect x="433" y="343" width="4" height="33"/>
<rect x="437" y="350" width="4" height="26"/>
<rect x="441" y="354" width="4" height="22"/>
<rect x="445" y="356" width="4" height="20"/>
<rect x="449" y="356" width="4" height="20"/>
<rect x="453" y="356" width="4" height="20"/>
<rect x="457" y="359" width="4" height="17"/>
<rect x="461" y="360" width="4" height="16"/>
<rect x="465" y="357" width="4" height="19"/>
<rect x="469" y="354" width="4" height="22"/>
<rect x="473" y="352" width="4" height="24"/>
<rect x="477" y="351" width="4" height="25"/>
<rect x="481" y="350" width="4" height="26"/>
<rect x="485" y="349" width="4" height="27"/>
<rect x="489" y="351" width="4" height="25"/>
<rect x="493" y="354" width="4" height="22"/>
<rect x="497" y="356" width="4" height="20"/>
<rect x="501" y="360" width="4" height="16"/>
<rect x="505" y="365" width="4" height="11"/>
<rect x="509" y="369" width="4" height="7"/>
<rect x="513" y="376" width="4" height="2"/>
<rect x="517" y="376" width="4" height="5"/>
<rect x="521" y="376" width="4" height="3"/>
<rect x="525" y="376" width="4" height="2"/>
<rect x="529" y="374" width="4" height="2"/>
<rect x="533" y="375" width="4" height="1"/>
<rect x="537" y="373" width="4" height="3"/>
<rect x="541" y="376" width="4" height="1"/>
<rect x="545" y="376" width="4" height="2"/>
<rect x="549" y="376" width="4" height="5"/>
<rect x="553" y="376" width="4" height="5"/>
<rect x="557" y="376" width="4" height="5"/>
<rect x="561" y="376" width="4" height="10"/>
<rect x="565" y="376" width="4" height="16"/>
<rect x="569" y="376" width="4" height="21"/>
<rect x="573" y="376" width="4" height="27"/>
<rect x="577" y="376" width="4" height="33"/>
<rect x="581" y="376" width="4" height="37"/>
<rect x="585" y="376" width="4" height="38"/>
<rect x="589" y="376" width="4" height="38"/>
<rect x="593" y="376" width="4" height="40"/>
</g>
<line x1="3" y1="376.5" x2="597" y2="376.5" stroke="#c0c0c0" stroke-dasharray="3 3" stroke-dashoffset="5" shape-rendering="crispEdges"/>
<line x1="597" y1="376.5" x2="669" y2="376.5" stroke="#c0c0c0" stroke-dasharray="3 3" stroke-dashoffset="5" shape-rendering="crispEdges"/>
<polyline fill="none" stroke="#ff0000" stroke-width="2" stroke-linejoin="round" shape-rendering="crispEdges" points="2.7,379.8 18.7,382.9 34.8,399 51,415.4 61.1,424.2 69.6,431.3 79.8,437.6 95,437.6 99.3,435.5 108.7,432.3 120,430.5 129.8,429.8 154.5,429.8 156.5,427.9 162.4,426.5 169.3,421.9 179.2,414 185.1,406.1 193,397.2 199,389.3 204.9,383.8 209.8,380.4 216.8,372.5 224.7,365.6 228.5,362.8 240.4,355.2 248.9,351.8 257.4,349.7 267.5,349.2 277.7,347.9 287.9,345.5 294.7,339.9 303.2,334 311.7,325.5 318.5,319.5 327,314.9 330.4,313.9 338.5,314.2 347,315.3 355.5,315.6 364,316.5 370.7,317.8 379.2,322.9 387.7,328.9 392.8,331.7 403,331.7 408,330.2 414.9,326.8 420,324.1 425,322.9 431.9,322.9 436,325.5 442,332.3 448.5,339.9 457,347.5 463.8,353 469.7,355.7 482.4,355.7 489.2,354 497.7,353.5 504.5,353.5 511.3,356 519.8,362.8 528.3,368.8 536.8,373 541.9,375 548.7,375.9 559.3,376.3 567,379.2 573.8,383.1 584,393.3 595.5,403.5"/>
</g>
<g id="stoch">
<polyline fill="none" stroke="#ff0000" stroke-width="1" stroke-dasharray="3 3" shape-rendering="crispEdges" points="3.5,510 7.5,536 11.5,560.17 15.5,574.53 19.5,583 23.5,583.57 27.5,586.17 31.5,584.2 35.5,580.8 39.5,574.6 43.5,573.2 47.5,575.47 51.5,581.23 55.5,586.3 59.5,588.83 63.5,589.67 67.5,586.83 71.5,579.77 75.5,568.17 79.5,557.43 83.5,551.9 87.5,550.33 91.5,550.17 95.5,550.6 99.5,553.43 103.5,555.3 107.5,558.13 111.5,563.1 115.5,574.13 119.5,580.93 123.5,580 127.5,571.03 131.5,563.93 135.5,564.77 139.5,569.37 143.5,576.43 147.5,579.1 151.5,580.33 155.5,571.6 159.5,553.07 163.5,525.97 167.5,501.73 171.5,482.7 175.5,475.17 179.5,473.67 183.5,476.43 187.5,472.27 191.5,465.03 195.5,459.6 199.5,460.87 203.5,466.1 207.5,471.77 211.5,475.33 215.5,474.67 219.5,469.17 223.5,465.17 227.5,466.83 231.5,478.77 235.5,495.87 239.5,513.4 243.5,523.67 247.5,522.43 251.5,515.33 255.5,504.67 259.5,496.33 263.5,487.17 267.5,481.97 271.5,480.7 275.5,487.37 279.5,496.9 283.5,498.17 287.5,486.9 291.5,470.47 295.5,461.7 299.5,461.87 303.5,464.6 307.5,466.27 311.5,467.1 315.5,469.77 319.5,475.17 323.5,479.83 327.5,481.1 331.5,478.6 335.5,475.87 339.5,474.03 343.5,473.87 347.5,474.27 351.5,478.17 355.5,487.1 359.5,500.03 363.5,511.9 367.5,519.83 371.5,526.77 375.5,535.93 379.5,545.3 383.5,547.13 387.5,532.37 391.5,509.63 395.5,487.53 399.5,474.77 403.5,466.43 407.5,461 411.5,461 415.5,465.33 419.5,474.1 423.5,479.93 427.5,484.8 431.5,490.2 435.5,505.07 439.5,527.6 443.5,549.17 447.5,557.93 451.5,551.67 455.5,538.63 459.5,528.63 463.5,525.53 467.5,522.43 471.5,509.07 475.5,489.87 479.5,476.27 483.5,475.43 487.5,477.1 491.5,478.6 495.5,482.37 499.5,494.23 503.5,508.87 507.5,525.53 511.5,543.47 515.5,562.63 519.5,574.73 523.5,574.33 527.5,558.07 531.5,536.8 535.5,518.43 539.5,509.67 543.5,508.4 547.5,512.57 551.5,523.17 555.5,529.27 559.5,531.93 563.5,531.37 567.5,543.23 571.5,563.53 575.5,582.13 579.5,590.9 583.5,589.63 587.5,583.97 591.5,575.6 595.5,568.77"/>
<polyline fill="none" stroke="#20b2aa" stroke-width="1" stroke-linejoin="round" shape-rendering="crispEdges" points="3.5,537 7.5,560.3 11.5,583.2 15.5,580.1 19.5,585.7 23.5,584.9 27.5,587.9 31.5,579.8 35.5,574.7 39.5,569.3 43.5,575.6 47.5,581.5 51.5,586.6 55.5,590.8 59.5,589.1 63.5,589.1 67.5,582.3 71.5,567.9 75.5,554.3 79.5,550.1 83.5,551.3 87.5,549.6 91.5,549.6 95.5,552.6 99.5,558.1 103.5,555.2 107.5,561.1 111.5,573 115.5,588.3 119.5,581.5 123.5,570.2 127.5,561.4 131.5,560.2 135.5,572.7 139.5,575.2 143.5,581.4 147.5,580.7 151.5,578.9 155.5,555.2 159.5,525.1 163.5,497.6 167.5,482.5 171.5,468 175.5,475 179.5,478 183.5,476.3 187.5,462.5 191.5,456.3 195.5,460 199.5,466.3 203.5,472 207.5,477 211.5,477 215.5,470 219.5,460.5 223.5,465 227.5,475 231.5,496.3 235.5,516.3 239.5,527.6 243.5,527.1 247.5,512.6 251.5,506.3 255.5,495.1 259.5,487.6 263.5,478.8 267.5,479.5 271.5,483.8 275.5,498.8 279.5,508.1 283.5,487.6 287.5,465 291.5,458.8 295.5,461.3 299.5,465.5 303.5,467 307.5,466.3 311.5,468 315.5,475 319.5,482.5 323.5,482 327.5,478.8 331.5,475 335.5,473.8 339.5,473.3 343.5,474.5 347.5,475 351.5,485 355.5,501.3 359.5,513.8 363.5,520.6 367.5,525.1 371.5,534.6 375.5,548.1 379.5,553.2 383.5,540.1 387.5,503.8 391.5,485 395.5,473.8 399.5,465.5 403.5,460 407.5,457.5 411.5,465.5 415.5,473 419.5,483.8 423.5,483 427.5,487.6 431.5,500 435.5,527.6 439.5,555.2 443.5,564.7 447.5,553.9 451.5,536.4 455.5,525.6 459.5,523.9 463.5,527.1 467.5,516.3 471.5,483.8 475.5,469.5 479.5,475.5 483.5,481.3 487.5,474.5 491.5,480 495.5,492.6 499.5,510.1 503.5,523.9 507.5,542.6 511.5,563.9 515.5,581.4 519.5,578.9 523.5,562.7 527.5,532.6 531.5,515.1 535.5,507.6 539.5,506.3 543.5,511.3 547.5,520.1 551.5,538.1 555.5,529.6 559.5,528.1 563.5,536.4 567.5,565.2 571.5,589 575.5,592.2 579.5,591.5 583.5,585.2 587.5,575.2 591.5,566.4 595.5,564.7"/>
</g>
<g shape-rendering="crispEdges" fill="#000">
<rect x="2" y="2" width="1" height="299"/>
<rect x="2" y="2" width="668" height="1"/>
<rect x="2" y="300" width="668" height="1"/>
<rect x="2" y="302" width="1" height="149"/>
<rect x="2" y="302" width="668" height="1"/>
<rect x="2" y="450" width="668" height="1"/>
<rect x="2" y="452" width="1" height="149"/>
<rect x="2" y="452" width="668" height="1"/>
<rect x="2" y="600" width="668" height="1"/>
<rect x="669" y="2" width="1" height="599"/>
<rect x="670" y="10" width="2" height="1"/>
<rect x="670" y="42" width="2" height="1"/>
<rect x="670" y="74" width="2" height="1"/>
<rect x="670" y="106" width="2" height="1"/>
<rect x="670" y="138" width="2" height="1"/>
<rect x="670" y="170" width="2" height="1"/>
<rect x="670" y="202" width="2" height="1"/>
<rect x="670" y="234" width="2" height="1"/>
<rect x="670" y="266" width="2" height="1"/>
<rect x="670" y="298" width="2" height="1"/>
<rect x="670" y="304" width="2" height="1"/>
<rect x="670" y="376" width="2" height="1"/>
<rect x="670" y="449" width="2" height="1"/>
<rect x="670" y="454" width="2" height="1"/>
<rect x="670" y="483" width="2" height="1"/>
<rect x="670" y="570" width="2" height="1"/>
<rect x="670" y="598" width="2" height="1"/>
<rect x="3" y="601" width="1" height="3"/>
<rect x="67" y="601" width="1" height="3"/>
<rect x="131" y="601" width="1" height="3"/>
<rect x="195" y="601" width="1" height="3"/>
<rect x="259" y="601" width="1" height="3"/>
<rect x="323" y="601" width="1" height="3"/>
<rect x="387" y="601" width="1" height="3"/>
<rect x="451" y="601" width="1" height="3"/>
<rect x="515" y="601" width="1" height="3"/>
<rect x="579" y="601" width="1" height="3"/>
</g>
<text x="6.93" y="14" fill="#000" stroke="#000" textLength="56.53" lengthAdjust="spacingAndGlyphs">AUDUSD,H4</text>
<text x="68.35" y="14" fill="#000" stroke="#000" textLength="32.75" lengthAdjust="spacingAndGlyphs">0.91347</text>
<text x="104.25" y="14" fill="#000" stroke="#000" textLength="32.66" lengthAdjust="spacingAndGlyphs">0.91458</text>
<text x="140.44" y="14" fill="#000" stroke="#000" textLength="32.37" lengthAdjust="spacingAndGlyphs">0.90955</text>
<text x="176.44" y="14" fill="#000" stroke="#000" textLength="32.19" lengthAdjust="spacingAndGlyphs">0.91002</text>
<text x="6.66" y="316" fill="#000" stroke="#000" textLength="66.03" lengthAdjust="spacingAndGlyphs">MACD(12,26,9)</text>
<text x="75.93" y="316" fill="#000" stroke="#000" textLength="40.71" lengthAdjust="spacingAndGlyphs">-0.003670</text>
<text x="119.95" y="316" fill="#000" stroke="#000" textLength="39.97" lengthAdjust="spacingAndGlyphs">-0.002632</text>
<text x="6.18" y="466" fill="#000" stroke="#000" textLength="55.58" lengthAdjust="spacingAndGlyphs">Stoch(13,3,3)</text>
<text x="64.63" y="466" fill="#000" stroke="#000" textLength="32.32" lengthAdjust="spacingAndGlyphs">23.6633</text>
<text x="100.6" y="466" fill="#000" stroke="#000" textLength="32.27" lengthAdjust="spacingAndGlyphs">20.8797</text>
<text x="5.19" y="595" fill="#000" stroke="#000" textLength="27.73" lengthAdjust="spacingAndGlyphs">FxPro</text>
<text x="35.72" y="595" fill="#000" stroke="#000" textLength="20.3" lengthAdjust="spacingAndGlyphs">MT4,</text>
<text x="60.53" y="595" fill="#000" stroke="#000" textLength="7.84" lengthAdjust="spacingAndGlyphs">©</text>
<text x="72.33" y="595" fill="#000" stroke="#000" textLength="44.23" lengthAdjust="spacingAndGlyphs">2001-2009</text>
<text x="119.73" y="595" fill="#000" stroke="#000" textLength="52.99" lengthAdjust="spacingAndGlyphs">MetaQuotes</text>
<text x="175" y="595" fill="#000" stroke="#000" textLength="41.22" lengthAdjust="spacingAndGlyphs">Software</text>
<text x="219.09" y="595" fill="#000" stroke="#000" textLength="23.22" lengthAdjust="spacingAndGlyphs">Corp.</text>
<text x="2.82" y="613" fill="#000" stroke="#000" textLength="50.28" lengthAdjust="spacingAndGlyphs">15 Dec 2009</text>
<text x="66.2" y="613" fill="#000" stroke="#000" textLength="53.79" lengthAdjust="spacingAndGlyphs">18 Dec 00:00</text>
<text x="130.32" y="613" fill="#000" stroke="#000" textLength="53.36" lengthAdjust="spacingAndGlyphs">22 Dec 16:00</text>
<text x="194.6" y="613" fill="#000" stroke="#000" textLength="53.19" lengthAdjust="spacingAndGlyphs">28 Dec 12:00</text>
<text x="258.16" y="613" fill="#000" stroke="#000" textLength="53.74" lengthAdjust="spacingAndGlyphs">31 Dec 04:00</text>
<text x="321.27" y="613" fill="#000" stroke="#000" textLength="48.18" lengthAdjust="spacingAndGlyphs">6 Jan 00:00</text>
<text x="386.1" y="613" fill="#000" stroke="#000" textLength="46.7" lengthAdjust="spacingAndGlyphs">8 Jan 16:00</text>
<text x="450.19" y="613" fill="#000" stroke="#000" textLength="52.3" lengthAdjust="spacingAndGlyphs">13 Jan 08:00</text>
<text x="513.98" y="613" fill="#000" stroke="#000" textLength="52.12" lengthAdjust="spacingAndGlyphs">18 Jan 00:00</text>
<text x="578.35" y="613" fill="#000" stroke="#000" textLength="51.37" lengthAdjust="spacingAndGlyphs">20 Jan 16:00</text>
<text x="674.35" y="13" fill="#000" stroke="#000" textLength="35.42" lengthAdjust="spacingAndGlyphs">0.93450</text>
<text x="674.35" y="45" fill="#000" stroke="#000" textLength="35.42" lengthAdjust="spacingAndGlyphs">0.92750</text>
<text x="674.35" y="77" fill="#000" stroke="#000" textLength="35.42" lengthAdjust="spacingAndGlyphs">0.92070</text>
<text x="674.35" y="109" fill="#000" stroke="#000" textLength="35.42" lengthAdjust="spacingAndGlyphs">0.91390</text>
<text x="674.35" y="141" fill="#000" stroke="#000" textLength="35.42" lengthAdjust="spacingAndGlyphs">0.90690</text>
<text x="674.35" y="173" fill="#000" stroke="#000" textLength="35.42" lengthAdjust="spacingAndGlyphs">0.89990</text>
<text x="674.35" y="205" fill="#000" stroke="#000" textLength="35.42" lengthAdjust="spacingAndGlyphs">0.89290</text>
<text x="674.35" y="237" fill="#000" stroke="#000" textLength="35.42" lengthAdjust="spacingAndGlyphs">0.88610</text>
<text x="674.35" y="269" fill="#000" stroke="#000" textLength="35.42" lengthAdjust="spacingAndGlyphs">0.87910</text>
<text x="674.35" y="301" fill="#000" stroke="#000" textLength="35.42" lengthAdjust="spacingAndGlyphs">0.87250</text>
<text x="672.49" y="313" fill="#000" stroke="#000" textLength="32.76" lengthAdjust="spacingAndGlyphs">0.00702</text>
<text x="672.35" y="379" fill="#000" stroke="#000" textLength="18.05" lengthAdjust="spacingAndGlyphs">0.00</text>
<text x="672.59" y="447" fill="#000" stroke="#000" textLength="37.91" lengthAdjust="spacingAndGlyphs">-0.00716</text>
<text x="672.95" y="463" fill="#000" stroke="#000" textLength="14.45" lengthAdjust="spacingAndGlyphs">100</text>
<text x="672.13" y="486" fill="#000" stroke="#000" textLength="9.78" lengthAdjust="spacingAndGlyphs">80</text>
<text x="672.11" y="573" fill="#000" stroke="#000" textLength="9.78" lengthAdjust="spacingAndGlyphs">20</text>
<text x="672.35" y="597" fill="#000" stroke="#000" textLength="5.05" lengthAdjust="spacingAndGlyphs">0</text>
<rect x="672" y="15" width="35" height="11" fill="#008080" shape-rendering="crispEdges"/>
<rect x="672" y="53" width="35" height="11" fill="#008080" shape-rendering="crispEdges"/>
<rect x="672" y="79" width="35" height="11" fill="#008080" shape-rendering="crispEdges"/>
<rect x="672" y="99" width="35" height="11" fill="#008080" shape-rendering="crispEdges"/>
<rect x="672" y="131" width="35" height="11" fill="#008080" shape-rendering="crispEdges"/>
<rect x="672" y="153" width="35" height="11" fill="#008080" shape-rendering="crispEdges"/>
<rect x="672" y="177" width="35" height="11" fill="#008080" shape-rendering="crispEdges"/>
<rect x="672" y="206" width="35" height="11" fill="#008080" shape-rendering="crispEdges"/>
<rect x="672" y="234" width="35" height="11" fill="#008080" shape-rendering="crispEdges"/>
<rect x="672" y="286" width="35" height="11" fill="#008080" shape-rendering="crispEdges"/>
<rect x="672" y="117" width="35" height="11" fill="#000" shape-rendering="crispEdges"/>
<text x="674.34" y="24" fill="#fff" stroke="#fff" textLength="35.54" lengthAdjust="spacingAndGlyphs">0.93221</text>
<text x="674.34" y="62" fill="#fff" stroke="#fff" textLength="35.54" lengthAdjust="spacingAndGlyphs">0.92383</text>
<text x="674.34" y="88" fill="#fff" stroke="#fff" textLength="35.54" lengthAdjust="spacingAndGlyphs">0.91823</text>
<text x="674.34" y="108" fill="#fff" stroke="#fff" textLength="35.61" lengthAdjust="spacingAndGlyphs">0.91392</text>
<text x="674.34" y="140" fill="#fff" stroke="#fff" textLength="35.61" lengthAdjust="spacingAndGlyphs">0.90702</text>
<text x="674.34" y="162" fill="#fff" stroke="#fff" textLength="35.53" lengthAdjust="spacingAndGlyphs">0.90228</text>
<text x="674.34" y="186" fill="#fff" stroke="#fff" textLength="35.53" lengthAdjust="spacingAndGlyphs">0.89718</text>
<text x="674.35" y="215" fill="#fff" stroke="#fff" textLength="35.42" lengthAdjust="spacingAndGlyphs">0.89080</text>
<text x="674.35" y="243" fill="#fff" stroke="#fff" textLength="35.42" lengthAdjust="spacingAndGlyphs">0.88470</text>
<text x="674.35" y="295" fill="#fff" stroke="#fff" textLength="35.42" lengthAdjust="spacingAndGlyphs">0.87360</text>
<text x="674.34" y="126" fill="#fff" stroke="#fff" textLength="35.61" lengthAdjust="spacingAndGlyphs">0.91002</text>
</svg>
</body></html>
